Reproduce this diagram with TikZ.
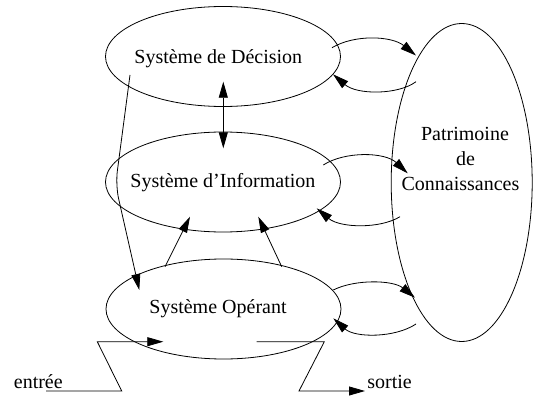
\documentclass[tikz,border=0pt]{standalone}
\usepackage{fontspec}
\setmainfont{Liberation Serif}
\usetikzlibrary{shapes.geometric,arrows.meta}
\tikzset{
  sys/.style={draw, ellipse, inner sep=0pt, minimum width=235pt, minimum height=100pt},
  lbl/.style={inner sep=0pt, font=\fontsize{20}{25}\selectfont},
  arr/.style={-{Triangle[length=16pt,width=9pt]}},
  dblarr/.style={{Triangle[length=16pt,width=9pt]}-{Triangle[length=16pt,width=9pt]}},
}
\begin{document}
\begin{tikzpicture}[x=1pt,y=-1pt,line width=0.8pt]
\useasboundingbox (0,0) rectangle (533,396);
% ellipses
\node[sys] (dec) at (223,56.5) {};
\node[sys] (inf) at (223,182) {};
\node[sys] (ope) at (223.5,309) {};
\node[draw, ellipse, inner sep=0pt, minimum width=141pt, minimum height=318pt] (pat) at (461.7,182.5) {};
% texts
\node[lbl, anchor=base west] (decT) at (134,63.3) {Système de Décision};
\node[lbl, anchor=base west] (infT) at (130,187.7) {Système d’Information};
\node[lbl, anchor=base west] (opeT) at (149,313.3) {Système Opérant};
\node[lbl, anchor=base] (patA) at (465,140) {Patrimoine};
\node[lbl, anchor=base] (patB) at (465.5,165) {de};
\node[lbl, anchor=base] (patC) at (460.5,190) {Connaissances};
\node[lbl, anchor=base west] (inT) at (13.5,388) {entrée};
\node[lbl, anchor=base west] (outT) at (367,388) {sortie};
% connector end points
\coordinate (d1) at (332,47.7);   \coordinate (p1) at (416,55.5);
\coordinate (p2) at (416,81.7);   \coordinate (d2) at (333,74.3);
\coordinate (i1) at (323.3,165);  \coordinate (p3) at (407.7,173.3);
\coordinate (p4) at (400,216.7);  \coordinate (i2) at (316.7,208.3);
\coordinate (o1) at (333.3,290);  \coordinate (p5) at (415,297.7);
\coordinate (p6) at (416,324);    \coordinate (o2) at (333.3,318.3);
\coordinate (dv) at (223.3,81.7); \coordinate (iv) at (223.3,148.3);
\coordinate (oa) at (165,266.7);  \coordinate (ia) at (190,216.7);
\coordinate (ob) at (281.7,266.7);\coordinate (ib) at (258.3,216.7);
\coordinate (ds) at (130,75);     \coordinate (dk) at (115.5,185); \coordinate (oe) at (139.3,290);
\coordinate (e0) at (46,391);     \coordinate (e1) at (121.7,391);
\coordinate (e2) at (97.3,341.7); \coordinate (e3) at (163.3,341.7);
\coordinate (s0) at (256.7,341.7);\coordinate (s1) at (324.3,341.7);
\coordinate (s2) at (299,391);    \coordinate (s3) at (365,391);
% curved exchanges with Patrimoine
\draw[arr] (d1) .. controls (355,34) and (392,36) .. (p1);
\draw[arr] (p2) .. controls (398,95) and (357,95) .. (d2);
\draw[arr] (i1) .. controls (345,151) and (385,152) .. (p3);
\draw[arr] (p4) .. controls (380,229) and (340,228) .. (i2);
\draw[arr] (o1) .. controls (355,279) and (393,280) .. (p5);
\draw[arr] (p6) .. controls (395,338) and (355,338) .. (o2);
% vertical links
\draw[dblarr] (dv) -- (iv);
\draw[arr] (oa) -- (ia);
\draw[arr] (ob) -- (ib);
\draw[arr, rounded corners=14pt] (ds) -- (dk) -- (oe);
% input / output
\draw[arr] (e0) -- (e1) -- (e2) -- (e3);
\draw[arr] (s0) -- (s1) -- (s2) -- (s3);
\end{tikzpicture}
\end{document}
